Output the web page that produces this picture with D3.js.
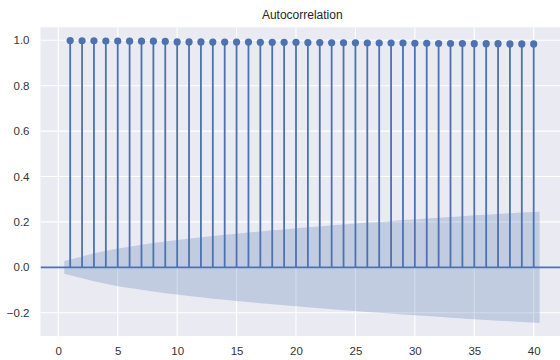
<!DOCTYPE html>
<html>
<head>
<meta charset="utf-8">
<script src="https://cdn.jsdelivr.net/npm/d3@7"></script>
<style>
  html, body { margin: 0; padding: 0; background: #ffffff; }
  svg { display: block; }
  text { font-family: "Liberation Sans", Arial, sans-serif; }
</style>
</head>
<body>
<svg id="chart" width="560" height="360"></svg>
<script>
// Lags shown (lag 0 omitted)
const lags = d3.range(1, 41);

// Autocorrelation coefficient at each lag
const acfValues = [
  0.999, 0.998, 0.998, 0.997, 0.997, 0.996, 0.996, 0.996, 0.995, 0.993,
  0.993, 0.993, 0.992, 0.992, 0.992, 0.992, 0.991, 0.991, 0.991, 0.991,
  0.990, 0.990, 0.989, 0.989, 0.989, 0.988, 0.988, 0.988, 0.988, 0.987,
  0.987, 0.986, 0.986, 0.986, 0.985, 0.985, 0.985, 0.984, 0.984, 0.984
];

// Half-width of the 95% confidence band at each lag
const bandHalfWidth = [
  0.028, 0.048, 0.062, 0.073, 0.083, 0.091, 0.099, 0.107, 0.114, 0.120,
  0.126, 0.132, 0.138, 0.143, 0.148, 0.153, 0.158, 0.163, 0.167, 0.172,
  0.176, 0.180, 0.185, 0.189, 0.193, 0.197, 0.200, 0.204, 0.208, 0.211,
  0.215, 0.218, 0.222, 0.225, 0.229, 0.232, 0.235, 0.238, 0.241, 0.245
];

const xTicks = [0, 5, 10, 15, 20, 25, 30, 35, 40];
const yTicks = [-0.2, 0.0, 0.2, 0.4, 0.6, 0.8, 1.0];
const titleText = "Autocorrelation";

const blue = "#4C72B0";
const svg = d3.select("#chart");

const plot = { left: 40.5, right: 564, top: 27.3, bottom: 336 };

const x = d3.scaleLinear().domain([0, 40]).range([58.3, 533.7]);
const y = d3.scaleLinear().domain([0, 1]).range([267.3, 40.3]);

// Axes background
svg.append("rect")
  .attr("x", plot.left).attr("y", plot.top)
  .attr("width", plot.right - plot.left).attr("height", plot.bottom - plot.top)
  .attr("fill", "#EAEAF2");

svg.append("clipPath").attr("id", "clip")
  .append("rect")
  .attr("x", plot.left).attr("y", plot.top)
  .attr("width", plot.right - plot.left).attr("height", plot.bottom - plot.top);

// Grid
const grid = svg.append("g").attr("clip-path", "url(#clip)");
grid.selectAll("line.gx").data(xTicks).enter().append("line")
  .attr("x1", d => x(d)).attr("x2", d => x(d))
  .attr("y1", plot.top).attr("y2", plot.bottom)
  .attr("stroke", "#ffffff").attr("stroke-width", 1.1);
grid.selectAll("line.gy").data(yTicks).enter().append("line")
  .attr("x1", plot.left).attr("x2", plot.right)
  .attr("y1", d => y(d)).attr("y2", d => y(d))
  .attr("stroke", "#ffffff").attr("stroke-width", 1.1);

const g = svg.append("g").attr("clip-path", "url(#clip)");

// Confidence band; first and last edges extended by half a lag
const bandData = lags.map((l, i) => ({
  lag: i === 0 ? l - 0.5 : (i === lags.length - 1 ? l + 0.5 : l),
  w: bandHalfWidth[i]
}));
g.append("path")
  .datum(bandData)
  .attr("fill", blue).attr("fill-opacity", 0.25)
  .attr("d", d3.area().x(d => x(d.lag)).y0(d => y(-d.w)).y1(d => y(d.w)));

// Zero line
g.append("line")
  .attr("x1", plot.left).attr("x2", plot.right)
  .attr("y1", y(0)).attr("y2", y(0))
  .attr("stroke", blue).attr("stroke-width", 1.8);

// Stems
g.selectAll("line.stem").data(lags).enter().append("line")
  .attr("x1", d => x(d)).attr("x2", d => x(d))
  .attr("y1", y(0)).attr("y2", (d, i) => y(acfValues[i]))
  .attr("stroke", blue).attr("stroke-width", 1.8);

// Markers
g.selectAll("circle").data(lags).enter().append("circle")
  .attr("cx", d => x(d)).attr("cy", (d, i) => y(acfValues[i]))
  .attr("r", 3.6).attr("fill", blue);

// Tick labels
const fmt = d3.format(".1f");
const yAxis = d3.axisLeft(y).tickValues(yTicks).tickSize(0).tickPadding(0)
  .tickFormat(d => fmt(d).replace("-", "\u2212"));
const ya = svg.append("g").attr("transform", `translate(${plot.left - 11},0)`).call(yAxis);
ya.select(".domain").remove();
ya.selectAll("text").attr("font-size", 11.5).attr("fill", "#333333")
  .attr("font-family", "'Liberation Sans', Arial, sans-serif");

const xAxis = d3.axisBottom(x).tickValues(xTicks).tickSize(0).tickPadding(0)
  .tickFormat(d3.format("d"));
const xa = svg.append("g").attr("transform", `translate(0,${plot.bottom + 11})`).call(xAxis);
xa.select(".domain").remove();
xa.selectAll("text").attr("font-size", 11.5).attr("fill", "#333333")
  .attr("font-family", "'Liberation Sans', Arial, sans-serif");

// Title
svg.append("text")
  .attr("x", (plot.left + plot.right) / 2).attr("y", 19)
  .attr("text-anchor", "middle")
  .attr("font-size", 12).attr("fill", "#262626")
  .text(titleText);
</script>
</body>
</html>
